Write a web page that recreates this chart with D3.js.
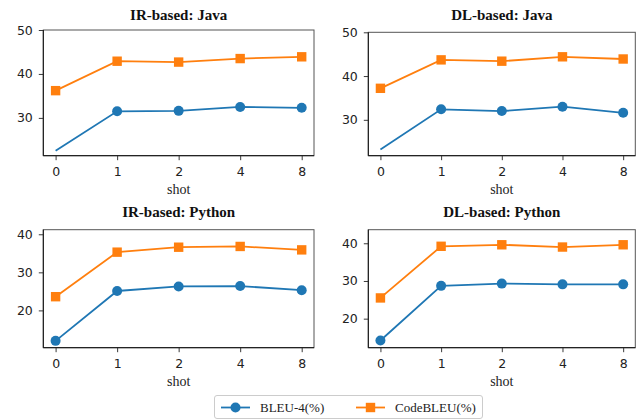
<!DOCTYPE html>
<html>
<head>
<meta charset="utf-8">
<script src="https://cdn.jsdelivr.net/npm/d3@7"></script>
<style>
  body { margin: 0; background: #fff; }
  svg { display: block; }
</style>
</head>
<body>
<svg id="chart" width="640" height="419"></svg>
<script>
// Data
const shots = ["0", "1", "2", "4", "8"];
const seriesNames = ["BLEU-4(%)", "CodeBLEU(%)"];
const panelTitles = ["IR-based: Java", "DL-based: Java", "IR-based: Python", "DL-based: Python"];

const irJavaBleu = [22.5, 31.5, 31.6, 32.5, 32.3];
const irJavaCode = [36.2, 42.9, 42.7, 43.5, 43.9];
const dlJavaBleu = [23.2, 32.4, 32.0, 33.0, 31.6];
const dlJavaCode = [37.2, 43.7, 43.4, 44.4, 43.9];
const irPyBleu = [12.0, 25.1, 26.3, 26.4, 25.3];
const irPyCode = [23.6, 35.3, 36.6, 36.8, 35.9];
const dlPyBleu = [14.2, 28.7, 29.3, 29.1, 29.1];
const dlPyCode = [25.5, 39.2, 39.6, 39.0, 39.6];

const yDomains = [[21.4, 50], [21.8, 50], [10.2, 41.2], [12.3, 43.6]];
const yTicks = [[30, 40, 50], [30, 40, 50], [20, 30, 40], [20, 30, 40]];
// the first BLEU point of the Java panels is drawn without a marker
const bleuMarkerFrom = [1, 1, 0, 0];

// Configs
const colors = ["#1f77b4", "#ff7f0e"];
const boxes = [
    { left: 43.3, right: 314, top: 30, bottom: 155.7 },
    { left: 368.3, right: 635.3, top: 32.3, bottom: 155.7 },
    { left: 43.3, right: 314, top: 229.7, bottom: 347.7 },
    { left: 368.3, right: 635.3, top: 229.7, bottom: 347.7 }
];
const titleY = [20, 20, 216.5, 216.5];
const serif = "'Liberation Serif', 'DejaVu Serif', serif";
const sans = "'DejaVu Sans', sans-serif";

const panels = [
    [irJavaBleu, irJavaCode],
    [dlJavaBleu, dlJavaCode],
    [irPyBleu, irPyCode],
    [dlPyBleu, dlPyCode]
];

const svg = d3.select("#chart");

panels.forEach((series, p) => {
    const b = boxes[p];
    const x = d3.scalePoint().domain(shots).range([b.left, b.right]).padding(0.2);
    const y = d3.scaleLinear().domain(yDomains[p]).range([b.bottom, b.top]);

    const g = svg.append("g");

    // Axes
    const xAxis = g.append("g")
        .attr("transform", `translate(0,${b.bottom})`)
        .call(d3.axisBottom(x).tickSize(4.5).tickSizeOuter(0).tickPadding(6.5));
    const yAxis = g.append("g")
        .attr("transform", `translate(${b.left},0)`)
        .call(d3.axisLeft(y).tickValues(yTicks[p]).tickSize(4.5).tickSizeOuter(0).tickPadding(6));
    [xAxis, yAxis].forEach(a => {
        a.select(".domain").remove();
        a.selectAll("text").attr("font-family", sans).attr("font-size", 12.5).attr("fill", "#222");
        a.selectAll("line").attr("stroke", "#222").attr("stroke-width", 0.9);
    });

    // Frame
    g.append("rect")
        .attr("x", b.left).attr("y", b.top)
        .attr("width", b.right - b.left).attr("height", b.bottom - b.top)
        .attr("fill", "none").attr("stroke", "#555").attr("stroke-width", 1);
    g.append("path")
        .attr("d", `M${b.left},${b.top}V${b.bottom}H${b.right}`)
        .attr("fill", "none").attr("stroke", "#111").attr("stroke-width", 1);

    // Lines
    const line = d3.line().x((d, i) => x(shots[i])).y(d => y(d));
    series.forEach((vals, s) => {
        g.append("path")
            .datum(vals)
            .attr("d", line)
            .attr("fill", "none")
            .attr("stroke", colors[s])
            .attr("stroke-width", 1.8);

        const pts = vals.map((v, i) => ({ v, i }))
            .filter(d => s === 1 || d.i >= bleuMarkerFrom[p]);
        if (s === 0) {
            g.selectAll(null).data(pts).join("circle")
                .attr("cx", d => x(shots[d.i]))
                .attr("cy", d => y(d.v))
                .attr("r", 5)
                .attr("fill", colors[s]);
        } else {
            g.selectAll(null).data(pts).join("rect")
                .attr("x", d => x(shots[d.i]) - 4.7)
                .attr("y", d => y(d.v) - 4.7)
                .attr("width", 9.4).attr("height", 9.4)
                .attr("fill", colors[s]);
        }
    });

    // Title and x label
    g.append("text")
        .attr("x", (b.left + b.right) / 2).attr("y", titleY[p])
        .attr("text-anchor", "middle")
        .attr("font-family", serif).attr("font-weight", "bold").attr("font-size", 15)
        .attr("fill", "#111")
        .text(panelTitles[p]);
    g.append("text")
        .attr("x", (b.left + b.right) / 2).attr("y", b.bottom + 38.5)
        .attr("text-anchor", "middle")
        .attr("font-family", serif).attr("font-size", 14)
        .attr("fill", "#222")
        .text("shot");
});

// Legend
const legend = svg.append("g");
legend.append("rect")
    .attr("x", 214.5).attr("y", 395.5).attr("width", 268).attr("height", 23)
    .attr("rx", 2.5)
    .attr("fill", "#fff").attr("stroke", "#ccc");
const legendX = [221, 356];
seriesNames.forEach((name, s) => {
    const lx = legendX[s], ly = 407.5;
    legend.append("line")
        .attr("x1", lx).attr("x2", lx + 29).attr("y1", ly).attr("y2", ly)
        .attr("stroke", colors[s]).attr("stroke-width", 1.8);
    if (s === 0) {
        legend.append("circle").attr("cx", lx + 14.5).attr("cy", ly).attr("r", 5).attr("fill", colors[s]);
    } else {
        legend.append("rect").attr("x", lx + 14.5 - 4.7).attr("y", ly - 4.7)
            .attr("width", 9.4).attr("height", 9.4).attr("fill", colors[s]);
    }
    legend.append("text")
        .attr("x", lx + 39).attr("y", ly + 4.3)
        .attr("font-family", serif).attr("font-size", 13)
        .attr("fill", "#222")
        .text(name);
});
</script>
</body>
</html>
